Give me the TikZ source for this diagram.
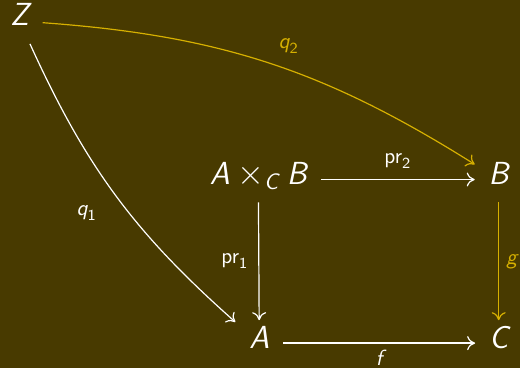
\documentclass[tikz,border=0pt]{standalone}
\usepackage{amsmath}
\usetikzlibrary{arrows.meta}
\newcommand{\sv}[1]{\text{\sffamily\slshape #1}}
\newcommand{\su}[1]{\text{\sffamily #1}}
\newcommand{\pr}[1]{\su{pr}_{\su{#1}}}
\definecolor{bg}{RGB}{72,58,0}
\definecolor{yc}{RGB}{214,176,0}
\tikzset{ob/.style={text=white,inner sep=1pt,outer sep=6pt,text height=.7em,text depth=.2em,font=\fontsize{16}{19}\selectfont},
 mor/.style={draw=white,line width=.6pt,-{To[length=4pt,width=7pt]}},
 ymor/.style={mor,draw=yc},
 lab/.style={font=\fontsize{11}{13}\selectfont,text=white,inner sep=2pt},
 ylab/.style={lab,text=yc}}
\begin{document}
\begin{tikzpicture}[x=.5pt,y=.5pt]
\fill[bg] (0,0) rectangle (521,-369);
\node[ob] (Z) at (19.5,-21) {$\sv Z$};
\node[ob] (P) at (259,-180) {$\sv A\times_{\sv C}\sv B$};
\node[ob] (B) at (500,-180) {$\sv B$};
\node[ob] (A) at (260,-344) {$\sv A$};
\node[ob] (C) at (500,-344) {$\sv C$};
\draw[mor] (P)--node[lab,above=3pt]{$\pr2$}(B);
\draw[mor] (P)--node[lab,left=3pt]{$\pr1$}(A);
\draw[mor] (A)--node[lab,below=1.2pt]{$\sv f$}(C);
\draw[ymor] (B)--node[ylab,right=1.5pt]{$\sv g$}(C);
\draw[mor] (Z) to[bend right=12] node[lab,pos=.57,left=14pt]{$\sv q_{\su 1}$}(A);
\draw[ymor] (Z) to[bend left=14] node[ylab,pos=.55,above=6pt]{$\sv q_{\su 2}$}(B);
\end{tikzpicture}
\end{document}
